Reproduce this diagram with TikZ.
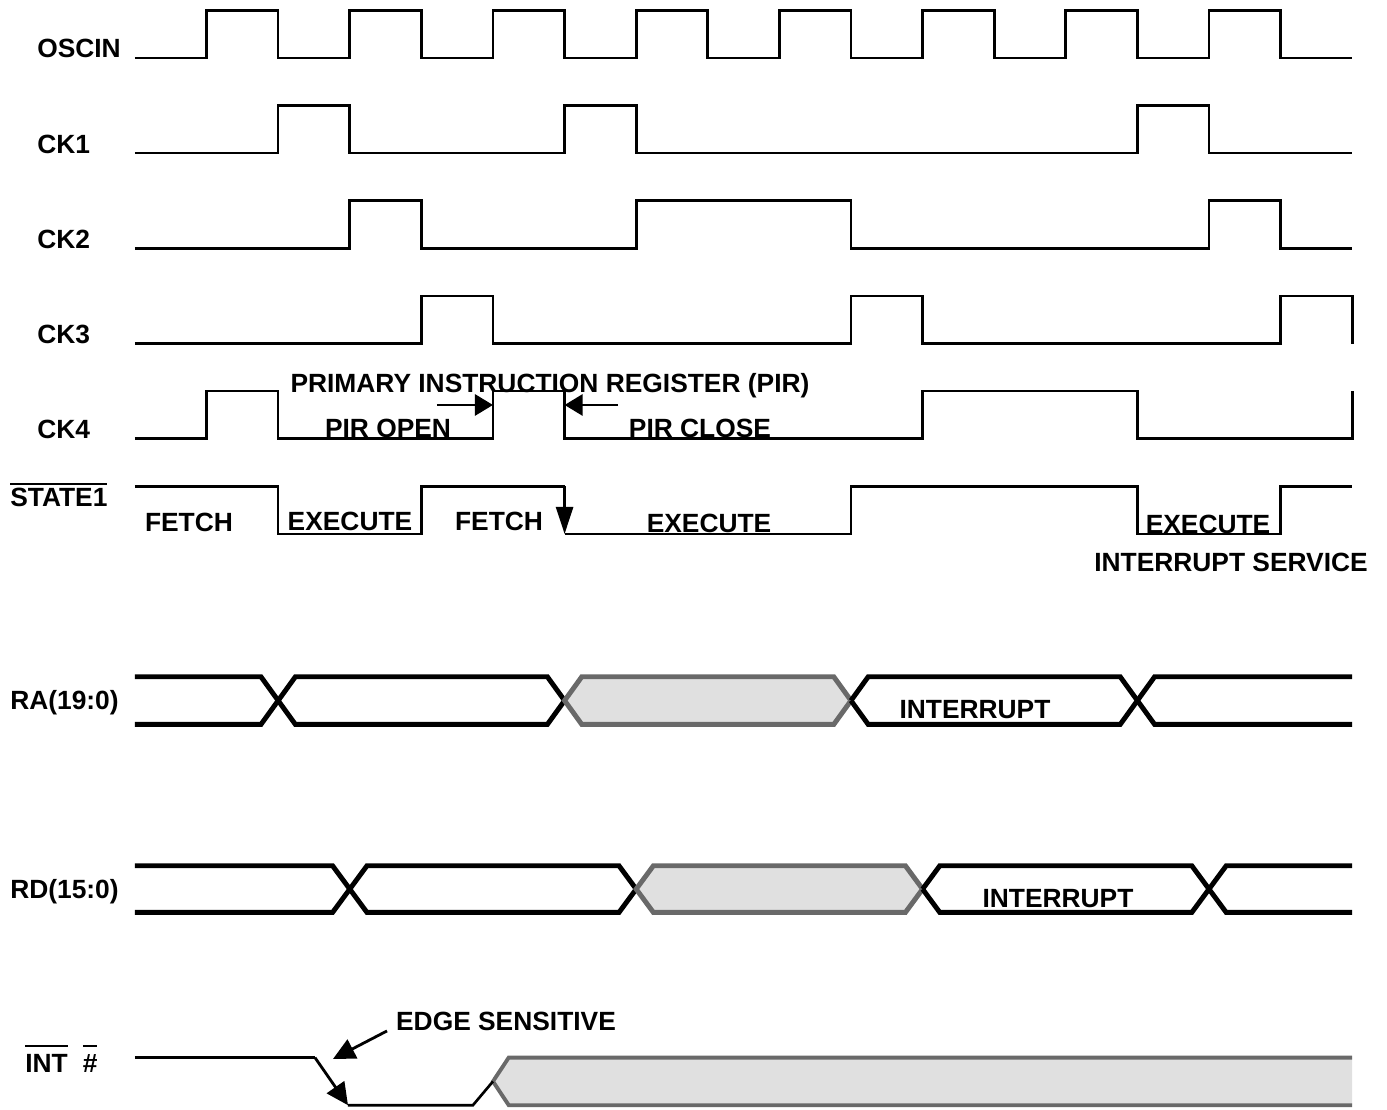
\documentclass[tikz,border=0pt]{standalone}
\usepackage{fontspec}
\setmainfont{Liberation Sans}
\usetikzlibrary{arrows.meta}
\definecolor{undefgray}{RGB}{224,224,224}
\definecolor{undefedge}{RGB}{105,105,105}
\newcommand{\barred}[2][1.8pt]{\vbox{\hrule height 1.3pt\kern #1\hbox{#2}}}

\begin{document}
\begin{tikzpicture}[x=1.432cm, y=0.952cm,
  every node/.style={font=\fontsize{15}{18}\selectfont\bfseries, inner sep=0pt},
  sig/.style={line width=1.5pt},
  bus/.style={line width=2.8pt},
  undef/.style={line width=2.8pt, draw=undefedge, fill=undefgray},
  signame/.style={anchor=base west},
  phase/.style={anchor=base},
  pirarrow/.style={line width=1.6pt, -{Triangle[length=0.36cm, width=0.42cm]}},
  edgearrow/.style={line width=1.6pt, -{Triangle[length=0.44cm, width=0.42cm]}}]
  % Page
  \useasboundingbox (-1.885,-12.08) rectangle (17.486,11.218);

  % Signal names
  \node[signame] (oscin) at (-1.369,10) {OSCIN};
  \node[signame] (ckone) at (-1.369,8) {CK1};
  \node[signame] (cktwo) at (-1.369,6) {CK2};
  \node[signame] (ckthree) at (-1.369,4) {CK3};
  \node[signame] (ckfour) at (-1.369,2) {CK4};
  \node[signame] (state) at (-1.746,0.58) {\barred{STATE1}};
  \node[signame] (ra) at (-1.746,-3.69) {RA(19:0)};
  \node[signame] (rd) at (-1.746,-7.66) {RD(15:0)};
  \node[signame] (int) at (-1.536,-11.32) {\barred[4.2pt]{INT}\hspace{0.3cm}\barred[4.2pt]{\#}};

  % Clocks
  \draw[sig] (0,10) -| (1,11) -| (2,10) -| (3,11) -| (4,10) -| (5,11) -| (6,10) -| (7,11) -| (8,10)
    -| (9,11) -| (10,10) -| (11,11) -| (12,10) -| (13,11) -| (14,10) -| (15,11) -| (16,10) -- (17,10);
  \draw[sig] (0,8) -| (2,9) -| (3,8) -| (6,9) -| (7,8) -| (14,9) -| (15,8) -- (17,8);
  \draw[sig] (0,6) -| (3,7) -| (4,6) -| (7,7) -| (10,6) -| (15,7) -| (16,6) -- (17,6);
  \draw[sig] (0,4) -| (4,5) -| (5,4) -| (10,5) -| (11,4) -| (16,5) -| (17,4);
  \draw[sig] (0,2) -| (1,3) -| (2,2) -| (5,3) -| (6,2) -| (11,3) -| (14,2) -| (17,3);

  % PIR window
  \node[phase] (pir) at (5.796,2.973) {PRIMARY INSTRUCTION REGISTER (PIR)};
  \node[phase] (piropen) at (3.534,2.027) {PIR OPEN};
  \node[phase] (pirclose) at (7.891,2.027) {PIR CLOSE};
  \coordinate (openfrom) at (4.218,2.71);
  \coordinate (opento) at (5,2.71);
  \coordinate (closefrom) at (6.746,2.71);
  \coordinate (closeto) at (6,2.71);
  \draw[pirarrow] (openfrom) -- (opento);
  \draw[pirarrow] (closefrom) -- (closeto);

  % STATE1
  \draw[sig] (0,1) -| (2,0) -| (4,1) -- (6,1);
  \draw[sig, -{Triangle[length=0.54cm, width=0.34cm]}] (6,1) -- (6,0);
  \draw[sig] (6,0) -| (10,1) -| (14,0) -| (16,1) -- (17,1);
  \node[phase] (fetchone) at (0.754,0.053) {FETCH};
  \node[phase] (execone) at (3.003,0.074) {EXECUTE};
  \node[phase] (fetchtwo) at (5.084,0.074) {FETCH};
  \node[phase] (exectwo) at (8.017,0.03) {EXECUTE};
  \node[phase] (execthree) at (14.986,0.01) {EXECUTE};
  \node[phase] (service) at (15.307,-0.788) {INTERRUPT SERVICE};

  % RA(19:0)
  \draw[bus] (0,-3) -- (1.76,-3) -- (2.24,-4) -- (5.76,-4) -- (6,-3.5);
  \draw[bus] (0,-4) -- (1.76,-4) -- (2.24,-3) -- (5.76,-3) -- (6,-3.5);
  \draw[undef] (6,-3.5) -- (6.24,-3) -- (9.76,-3) -- (10,-3.5) -- (9.76,-4) -- (6.24,-4) -- cycle;
  \draw[bus] (10,-3.5) -- (10.24,-3) -- (13.76,-3) -- (14.24,-4) -- (17,-4);
  \draw[bus] (10,-3.5) -- (10.24,-4) -- (13.76,-4) -- (14.24,-3) -- (17,-3);
  \node[phase] (raint) at (11.732,-3.876) {INTERRUPT};

  % RD(15:0)
  \draw[bus] (0,-6.97) -- (2.76,-6.97) -- (3.24,-7.95) -- (6.76,-7.95) -- (7,-7.46);
  \draw[bus] (0,-7.95) -- (2.76,-7.95) -- (3.24,-6.97) -- (6.76,-6.97) -- (7,-7.46);
  \draw[undef] (7,-7.46) -- (7.24,-6.97) -- (10.76,-6.97) -- (11,-7.46) -- (10.76,-7.95) -- (7.24,-7.95) -- cycle;
  \draw[bus] (11,-7.46) -- (11.24,-6.97) -- (14.76,-6.97) -- (15.24,-7.95) -- (17,-7.95);
  \draw[bus] (11,-7.46) -- (11.24,-7.95) -- (14.76,-7.95) -- (15.24,-6.97) -- (17,-6.97);
  \node[phase] (rdint) at (12.891,-7.847) {INTERRUPT};

  % INT#
  \fill[undefgray] (5,-11.5) -- (5.22,-11) -- (17,-11) -- (17,-12) -- (5.22,-12) -- cycle;
  \draw[undefedge, line width=2.2pt] (17,-11) -- (5.22,-11) -- (5,-11.5) -- (5.22,-12) -- (17,-12);
  \draw[sig] (0,-11) -- (2.514,-11);
  \draw[edgearrow] (2.514,-11) -- (2.975,-12);
  \draw[sig] (2.975,-12) -- (4.72,-12) -- (5,-11.5);
  \node[phase] (edge) at (5.182,-10.43) {EDGE SENSITIVE};
  \coordinate (edgefrom) at (3.52,-10.44);
  \coordinate (edgeto) at (2.765,-11.03);
  \draw[edgearrow] (edgefrom) -- (edgeto);
\end{tikzpicture}
\end{document}
